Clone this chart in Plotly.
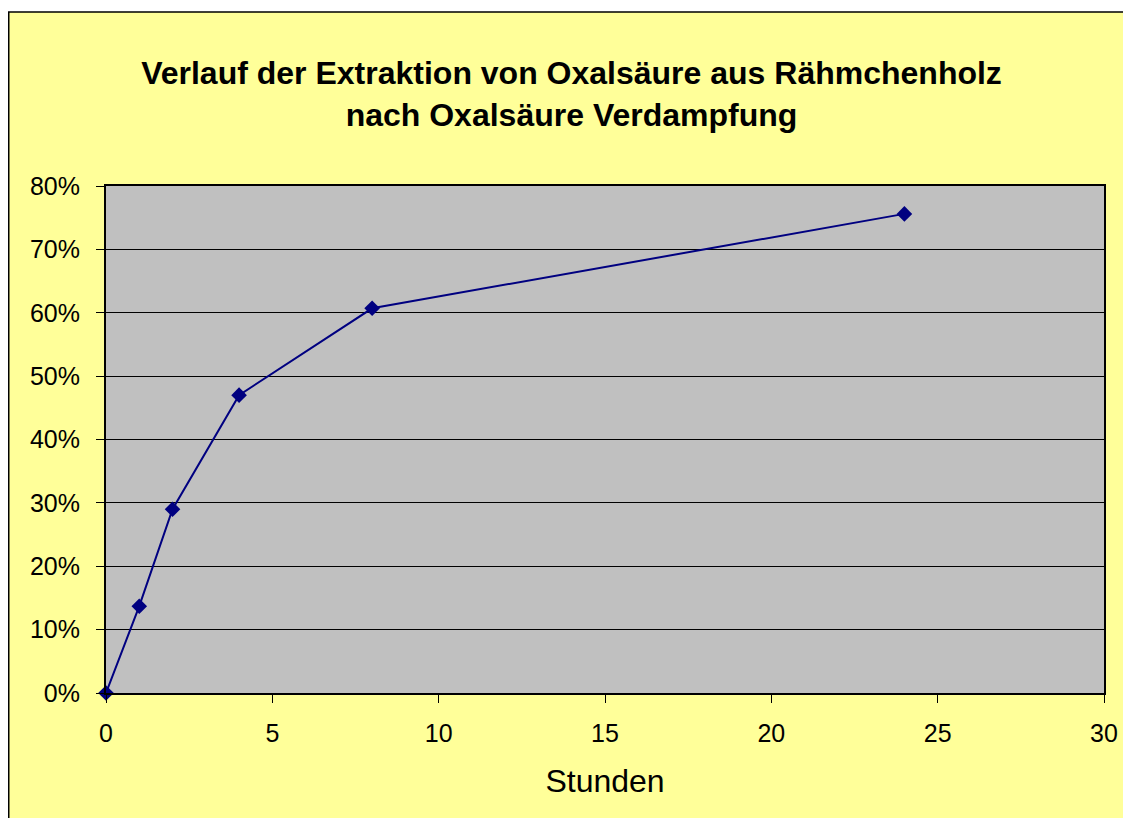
import plotly.graph_objects as go

# Extraktion Oxalsäure - Messwerte
stunden = [0, 1, 2, 4, 8, 24]
anteil = [0.0, 0.137, 0.29, 0.47, 0.607, 0.756]

titel = "Verlauf der Extraktion von Oxalsäure aus Rähmchenholz<br>nach Oxalsäure Verdampfung"
x_titel = "Stunden"

FONT = "Liberation Sans, Arial, sans-serif"
NAVY = "#000080"

# the page body adds an 8px margin, so the figure starts at (8, 8)
W, H = 1123, 810

fig = go.Figure()
fig.add_trace(go.Scatter(
    x=stunden, y=anteil,
    mode="lines+markers",
    line=dict(color=NAVY, width=2),
    marker=dict(symbol="diamond", size=12, color=NAVY),
    cliponaxis=False,
    showlegend=False,
))

# plot area in figure pixels
ml, mr, mt, mb = 98, 27, 178, 125
pw = W - ml - mr
ph = H - mt - mb

def px_x(p):
    return (p - ml) / pw

def px_y(p):
    return (H - mb - p) / ph

fig.update_layout(
    width=W, height=H,
    margin=dict(l=ml, r=mr, t=mt, b=mb, pad=0),
    paper_bgcolor="#FFFF99",
    plot_bgcolor="#C0C0C0",
    font=dict(family=FONT, color="black", size=25),
    title=dict(
        text="<b>" + titel + "</b>",
        font=dict(family=FONT, size=32, color="black"),
        x=563.5 / W, xanchor="center",
        y=1 - 76 / H, yanchor="top",
    ),
    xaxis=dict(
        range=[0, 30], dtick=5, tick0=0,
        showgrid=False, zeroline=False,
        showline=True, linecolor="black", linewidth=2, mirror=True,
        ticks="outside", ticklen=8, tickcolor="black", tickwidth=1,
        ticklabelstandoff=9,
        tickfont=dict(size=25),
        title=dict(text=x_titel, font=dict(size=32), standoff=24),
    ),
    yaxis=dict(
        range=[0, 0.8], dtick=0.1, tick0=0, tickformat=".0%",
        showgrid=True, gridcolor="black", gridwidth=1,
        zeroline=False,
        showline=True, linecolor="black", linewidth=2, mirror=True,
        ticks="outside", ticklen=8, tickcolor="black", tickwidth=1,
        ticklabelstandoff=11,
        tickfont=dict(size=25),
    ),
    shapes=[
        # white strip above the chart frame
        dict(type="rect", xref="paper", yref="paper",
             x0=px_x(-5), x1=px_x(W + 10), y0=px_y(4), y1=px_y(-5),
             fillcolor="white", line=dict(width=0), layer="above"),
        # outer chart frame
        dict(type="rect", xref="paper", yref="paper",
             x0=px_x(0.75), x1=px_x(W - 1), y0=px_y(H + 10), y1=px_y(4),
             line=dict(color="black", width=1.5), layer="above"),
    ],
)

fig.write_html("out.html")
